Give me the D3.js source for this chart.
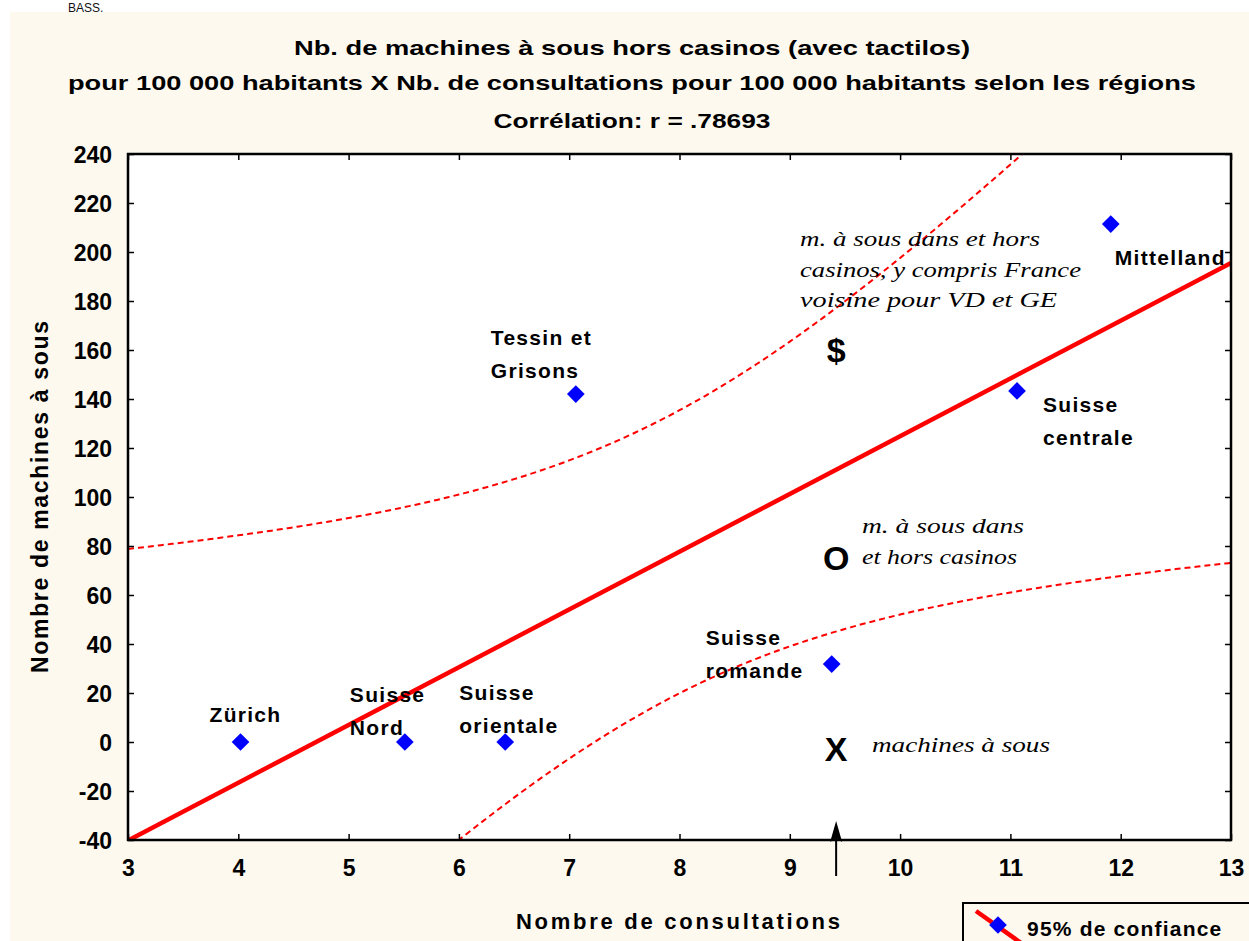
<!DOCTYPE html>
<html>
<head>
<meta charset="utf-8">
<script src="https://cdn.jsdelivr.net/npm/d3@7"></script>
<style>
  body { margin: 0; background: #fff; }
  svg { display: block; }
</style>
</head>
<body>
<script>
// Data
var regions = ['Zürich', 'Suisse Nord', 'Suisse orientale', 'Tessin et Grisons',
               'Suisse romande', 'Suisse centrale', 'Mittelland'];
var consultations = [4.02, 5.51, 6.42, 7.06, 9.38, 11.06, 11.91];
var machines = [0, 0, 0, 142, 31.8, 143.3, 211.4];
var xTicks = [3, 4, 5, 6, 7, 8, 9, 10, 11, 12, 13];
var yTicks = [-40, -20, 0, 20, 40, 60, 80, 100, 120, 140, 160, 180, 200, 220, 240];
var titleLines = ['Nb. de machines à sous hors casinos (avec tactilos)',
                  'pour 100 000 habitants  X  Nb. de consultations pour 100 000 habitants selon les régions',
                  'Corrélation: r = .78693'];
var tCrit = 2.5706; // t(0.975, df = 5)

var SANS = '"Liberation Sans", Arial, sans-serif';
var SERIF = '"Liberation Serif", "Times New Roman", serif';

// Graph dimensions
var W = 1249, H = 941;
var plot = {left: 128, right: 1231, top: 154, bottom: 840};

var x = d3.scaleLinear().domain([3, 13]).range([plot.left, plot.right]);
var y = d3.scaleLinear().domain([-40, 240]).range([plot.bottom, plot.top]);

var svg = d3.select('body').append('svg')
    .attr('width', W).attr('height', H)
    .attr('font-family', SANS);

// Cream panel
svg.append('rect').attr('x', 10).attr('y', 12)
    .attr('width', W - 10).attr('height', H - 12).attr('fill', '#fdf9ef');

// Header text above the panel
svg.append('text').attr('x', 68).attr('y', 12)
    .attr('font-size', 12).attr('fill', '#111').text('BASS.');

// Plot background
svg.append('rect').attr('x', plot.left).attr('y', plot.top)
    .attr('width', plot.right - plot.left).attr('height', plot.bottom - plot.top)
    .attr('fill', '#fff');

// Title
var titleY = [55, 90, 128];
var titleW = [676, 1128, 277];
titleLines.forEach(function(t, i) {
  svg.append('text').attr('x', 632).attr('y', titleY[i])
      .attr('text-anchor', 'middle').attr('font-weight', 'bold').attr('font-size', 21)
      .attr('textLength', titleW[i]).attr('lengthAdjust', 'spacingAndGlyphs')
      .text(t);
});

// Regression + 95% confidence band, computed from the points
var n = consultations.length;
var mx = d3.mean(consultations), my = d3.mean(machines);
var sxx = d3.sum(consultations, function(v) { return (v - mx) * (v - mx); });
var sxy = d3.sum(consultations, function(v, i) { return (v - mx) * (machines[i] - my); });
var slope = sxy / sxx, icpt = my - slope * mx;
var sse = d3.sum(consultations, function(v, i) {
  var r = machines[i] - (icpt + slope * v); return r * r;
});
var s = Math.sqrt(sse / (n - 2));
function band(v, sign) {
  var se = s * Math.sqrt(1 / n + (v - mx) * (v - mx) / sxx);
  return icpt + slope * v + sign * tCrit * se;
}
var xs = d3.range(0, 201).map(function(i) { return 3 + i * 0.05; });

svg.append('clipPath').attr('id', 'clip').append('rect')
    .attr('x', plot.left).attr('y', plot.top)
    .attr('width', plot.right - plot.left).attr('height', plot.bottom - plot.top);
var g = svg.append('g').attr('clip-path', 'url(#clip)');

var line = d3.line().x(function(d) { return x(d[0]); }).y(function(d) { return y(d[1]); });

[1, -1].forEach(function(sign) {
  g.append('path')
      .attr('d', line(xs.map(function(v) { return [v, band(v, sign)]; })))
      .attr('fill', 'none').attr('stroke', '#ff0000').attr('stroke-width', 2)
      .attr('stroke-dasharray', '6,4');
});
g.append('path')
    .attr('d', line([[3, icpt + slope * 3], [13, icpt + slope * 13]]))
    .attr('fill', 'none').attr('stroke', '#ff0000').attr('stroke-width', 4.5);

// Axes with inward ticks on all sides
function styleAxis(sel) {
  sel.select('.domain').remove();
  sel.selectAll('.tick line').attr('stroke', '#000').attr('stroke-width', 1.5);
  sel.selectAll('text').attr('font-family', SANS)
      .attr('font-weight', 'bold').attr('font-size', 23).attr('fill', '#000');
}
var fmt = function(d) { return String(d); };
svg.append('g').attr('class', 'xaxis').attr('transform', 'translate(0,' + plot.bottom + ')')
    .call(d3.axisBottom(x).tickValues(xTicks).tickFormat(fmt).tickSizeInner(-6).tickSizeOuter(0).tickPadding(22))
    .call(styleAxis);
svg.append('g').attr('transform', 'translate(0,' + plot.top + ')')
    .call(d3.axisTop(x).tickValues(xTicks).tickSizeInner(-6).tickSizeOuter(0).tickFormat(''))
    .call(styleAxis);
svg.append('g').attr('class', 'yaxis').attr('transform', 'translate(' + plot.left + ',0)')
    .call(d3.axisLeft(y).tickValues(yTicks).tickFormat(fmt).tickSizeInner(-6).tickSizeOuter(0).tickPadding(16))
    .call(styleAxis);
svg.append('g').attr('transform', 'translate(' + plot.right + ',0)')
    .call(d3.axisRight(y).tickValues(yTicks).tickSizeInner(-6).tickSizeOuter(0).tickFormat(''))
    .call(styleAxis);
svg.selectAll('.yaxis .tick text').attr('dy', '0.36em');
svg.selectAll('.xaxis .tick text').attr('dy', '0.6em');

svg.append('rect').attr('x', plot.left).attr('y', plot.top)
    .attr('width', plot.right - plot.left).attr('height', plot.bottom - plot.top)
    .attr('fill', 'none').attr('stroke', '#000').attr('stroke-width', 2.5);

// Axis titles
svg.append('text').attr('x', 678).attr('y', 929)
    .attr('text-anchor', 'middle').attr('font-weight', 'bold').attr('font-size', 22)
    .attr('textLength', 324).text('Nombre de consultations');
svg.append('text').attr('transform', 'translate(48,497) rotate(-90)')
    .attr('text-anchor', 'middle').attr('font-weight', 'bold').attr('font-size', 23)
    .attr('textLength', 352).text('Nombre de machines à sous');

// Points
svg.selectAll('.pt').data(consultations).enter().append('path')
    .attr('class', 'pt')
    .attr('transform', function(d, i) { return 'translate(' + x(d) + ',' + y(machines[i]) + ')'; })
    .attr('d', d3.symbol(d3.symbolDiamond2, 200))
    .attr('fill', '#0000ff');

// Point labels: lines and offset from the point
var labelLines = [['Zürich'], ['Suisse', 'Nord'], ['Suisse', 'orientale'], ['Tessin et', 'Grisons'],
                  ['Suisse', 'romande'], ['Suisse', 'centrale'], ['Mittelland']];
var labelDx = [-31, -55, -46, -85, -126, 26, 4];
var labelDy = [-20, -40, -42, -49, -19, 21, 41];
regions.forEach(function(r, i) {
  var t = svg.append('text')
      .attr('x', x(consultations[i]) + labelDx[i])
      .attr('y', y(machines[i]) + labelDy[i])
      .attr('font-weight', 'bold').attr('font-size', 21).attr('letter-spacing', 1.3);
  labelLines[i].forEach(function(l, j) {
    t.append('tspan').attr('x', x(consultations[i]) + labelDx[i])
        .attr('dy', j === 0 ? 0 : 33).text(l);
  });
});

// Markers and notes
var markX = 9.42;
var marks = ['$', 'O', 'X'];
var markY = [160, 75, -3];
var notes = [['m. à sous dans et hors', 'casinos, y compris France', 'voisine pour VD et GE'],
             ['m. à sous dans', 'et hors casinos'],
             ['machines à sous']];
var noteX = [800, 862, 872];
var noteY = [246, 533, 752];
var noteW = [[240, 281, 257], [162, 155], [178]];
marks.forEach(function(m, i) {
  svg.append('text').attr('x', x(markX)).attr('y', y(markY[i]) + 12)
      .attr('text-anchor', 'middle').attr('font-weight', 'bold').attr('font-size', 34)
      .text(m);
  notes[i].forEach(function(l, j) {
    svg.append('text').attr('x', noteX[i]).attr('y', noteY[i] + j * 30.5)
        .attr('font-family', SERIF)
        .attr('font-style', 'italic').attr('font-size', 21)
        .attr('textLength', noteW[i][j]).attr('lengthAdjust', 'spacingAndGlyphs')
        .text(l);
  });
});

// Arrow under the x axis
svg.append('line').attr('x1', x(markX)).attr('x2', x(markX))
    .attr('y1', 832).attr('y2', 876).attr('stroke', '#000').attr('stroke-width', 2);
svg.append('path')
    .attr('d', 'M' + x(markX) + ',821 l-6,21 l6,-4 l6,4 z')
    .attr('fill', '#000');

// Legend
var lg = svg.append('g').attr('transform', 'translate(963,903)');
lg.append('rect').attr('width', 300).attr('height', 60)
    .attr('fill', 'none').attr('stroke', '#000').attr('stroke-width', 2);
lg.append('line').attr('x1', 13).attr('y1', 8).attr('x2', 58).attr('y2', 40)
    .attr('stroke', '#ff0000').attr('stroke-width', 4.5);
lg.append('path').attr('transform', 'translate(35,22)')
    .attr('d', d3.symbol(d3.symbolDiamond2, 200)).attr('fill', '#0000ff');
lg.append('text').attr('x', 64).attr('y', 33)
    .attr('font-weight', 'bold').attr('font-size', 21).attr('letter-spacing', 1.2)
    .text('95% de confiance');
</script>
</body>
</html>
